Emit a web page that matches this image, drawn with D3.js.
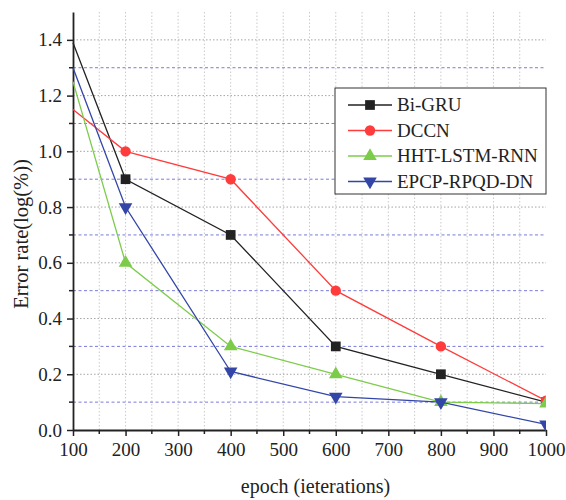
<!DOCTYPE html>
<html>
<head>
<meta charset="utf-8">
<script src="https://cdn.jsdelivr.net/npm/d3@7"></script>
<style>
  body { margin: 0; background: #fff; }
</style>
</head>
<body>
<div id="chart"></div>
<script>
// data
const epochs = [100, 200, 400, 600, 800, 1000]
const biGRU = [1.39, 0.9, 0.7, 0.3, 0.2, 0.1]
const dccn = [1.15, 1.0, 0.9, 0.5, 0.3, 0.105]
const hhtLstmRnn = [1.25, 0.6, 0.3, 0.2, 0.1, 0.095]
const epcpRpqdDn = [1.3, 0.8, 0.21, 0.12, 0.1, 0.02]

const seriesNames = ["Bi-GRU", "DCCN", "HHT-LSTM-RNN", "EPCP-RPQD-DN"]
const xTicks = [100, 200, 300, 400, 500, 600, 700, 800, 900, 1000]
const yTicks = [0, 0.2, 0.4, 0.6, 0.8, 1.0, 1.2, 1.4]

const series = [
    {name: seriesNames[0], values: biGRU, color: "#222222", symbol: d3.symbolSquare, size: 95, rot: 0},
    {name: seriesNames[1], values: dccn, color: "#ff3b3b", symbol: d3.symbolCircle, size: 85, rot: 0},
    {name: seriesNames[2], values: hhtLstmRnn, color: "#7ccc4a", symbol: d3.symbolTriangle, size: 80, rot: 0},
    {name: seriesNames[3], values: epcpRpqdDn, color: "#3346a8", symbol: d3.symbolTriangle, size: 80, rot: 180}
]

const FONT = "Liberation Serif"

let margin = {top: 12, right: 20, bottom: 70, left: 73},
    width = 566 - margin.left - margin.right,
    height = 500 - margin.top - margin.bottom;

let svg = d3.select("#chart")
    .append("svg")
    .attr("width", 566)
    .attr("height", 500)
    .append("g")
    .attr("transform", "translate(" + margin.left + "," + margin.top + ")");

let xScale = d3.scaleLinear().domain([100, 1000]).range([0, width])
let yScale = d3.scaleLinear().domain([0, 1.5]).range([height, 0])

// grid: vertical dotted every 50, horizontal gray at majors, blue dashed at minors
let grid = svg.append("g")
grid.selectAll(".vg")
    .data(d3.range(150, 1000, 50))
    .join("line")
    .attr("x1", d => xScale(d)).attr("x2", d => xScale(d))
    .attr("y1", 0).attr("y2", height)
    .attr("stroke", "#bdbdbd").attr("stroke-width", 0.8)
    .attr("stroke-dasharray", "1.5,2")

grid.selectAll(".hg")
    .data(d3.range(1, 15).map(i => i / 10))
    .join("line")
    .attr("x1", 0).attr("x2", width)
    .attr("y1", d => yScale(d)).attr("y2", d => yScale(d))
    .attr("stroke", (d, i) => i % 2 == 0 ? "#6b6bd6" : "#9a9a9a")
    .attr("stroke-width", 0.9)
    .attr("stroke-dasharray", (d, i) => i % 2 == 0 ? "3,2.5" : "1.5,2")

// axes
let xAxis = svg.append("g")
    .attr("transform", "translate(0," + height + ")")
    .call(d3.axisBottom(xScale).tickValues(xTicks).tickFormat(d3.format("d")).tickSize(6).tickSizeOuter(0).tickPadding(7))
xAxis.append("g").selectAll("line")
    .data(d3.range(150, 1000, 100))
    .join("line")
    .attr("x1", d => xScale(d)).attr("x2", d => xScale(d))
    .attr("y1", 0).attr("y2", 4)
    .attr("stroke", "#222").attr("stroke-width", 1.5)

let yAxis = svg.append("g")
    .call(d3.axisLeft(yScale).tickValues(yTicks).tickFormat(d3.format(".1f")).tickSize(6).tickSizeOuter(0).tickPadding(5))
yAxis.append("g").selectAll("line")
    .data(d3.range(1, 15, 2).map(i => i / 10))
    .join("line")
    .attr("x1", 0).attr("x2", -4)
    .attr("y1", d => yScale(d)).attr("y2", d => yScale(d))
    .attr("stroke", "#222").attr("stroke-width", 1.5)

xAxis.attr("font-family", FONT)
yAxis.attr("font-family", FONT)
svg.selectAll(".domain").attr("stroke", "#222").attr("stroke-width", 1.8)
svg.selectAll(".tick line").attr("stroke", "#222").attr("stroke-width", 1.5)
svg.selectAll(".tick text").attr("font-size", 19).attr("fill", "#222")

// axis titles
svg.append("text")
    .attr("x", width / 2 + 6)
    .attr("y", height + 63)
    .attr("text-anchor", "middle")
    .attr("font-family", FONT)
    .attr("font-size", 20)
    .attr("fill", "#222")
    .text("epoch (ieterations)")

svg.append("text")
    .attr("transform", "translate(-45," + (height / 2 + 13) + ") rotate(-90)")
    .attr("text-anchor", "middle")
    .attr("font-family", FONT)
    .attr("font-size", 20.5)
    .attr("fill", "#222")
    .text("Error rate(log(%))")

// lines and markers, clipped at plot area
svg.append("clipPath").attr("id", "clip")
    .append("rect").attr("x", -1).attr("y", -1).attr("width", width + 1).attr("height", height + 2)

let plot = svg.append("g").attr("clip-path", "url(#clip)")
let makeLine = d3.line()
    .x((d, i) => xScale(epochs[i]))
    .y(d => yScale(d))

series.forEach(s => {
    plot.append("path")
        .attr("fill", "none")
        .attr("stroke", s.color)
        .attr("stroke-width", 1.3)
        .attr("d", makeLine(s.values))

    plot.selectAll(null)
        .data(s.values.slice(1))
        .join("path")
        .attr("d", d3.symbol().type(s.symbol).size(s.size))
        .attr("transform", (d, i) => "translate(" + xScale(epochs[i + 1]) + "," + yScale(d) + ") rotate(" + s.rot + ")")
        .attr("fill", s.color)
})

// legend
let legend = svg.append("g").attr("transform", "translate(" + (335 - margin.left) + "," + (88 - margin.top) + ")")
legend.append("rect")
    .attr("width", 211).attr("height", 106)
    .attr("fill", "#fff").attr("stroke", "#333").attr("stroke-width", 1)

series.forEach((s, i) => {
    let y = 17 + i * 25.5
    legend.append("line")
        .attr("x1", 13).attr("x2", 57)
        .attr("y1", y).attr("y2", y)
        .attr("stroke", s.color).attr("stroke-width", 1.3)
    legend.append("path")
        .attr("d", d3.symbol().type(s.symbol).size(s.size))
        .attr("transform", "translate(35," + y + ") rotate(" + s.rot + ")")
        .attr("fill", s.color)
    legend.append("text")
        .attr("x", 62).attr("y", y + 6)
        .attr("font-family", FONT)
        .attr("font-size", 19)
        .attr("fill", "#222")
        .text(s.name)
})
</script>
</body>
</html>
